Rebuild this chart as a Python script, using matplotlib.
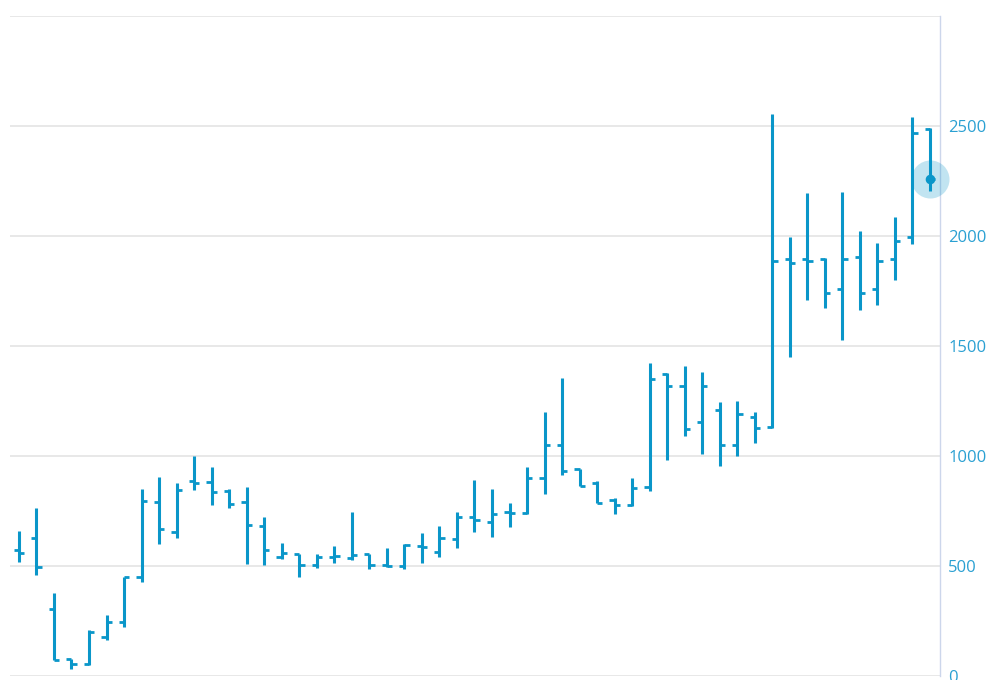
import matplotlib
matplotlib.use('Agg')
import matplotlib.pyplot as plt
import numpy as np

# OHLC values (53 periods)
opens = [570, 624, 304, 74, 52, 174, 242, 446, 789, 652,
         886, 878, 837, 789, 679, 537, 552, 501, 540, 533,
         552, 502, 499, 590, 563, 619, 722, 699, 745, 737,
         899, 1048, 937, 874, 798, 775, 858, 1370, 1316, 1151,
         1207, 1048, 1176, 1131, 1892, 1892, 1892, 1757, 1903, 1755,
         1892, 1992, 2484]
highs = [657, 760, 376, 76, 207, 274, 449, 846, 902, 874,
         998, 949, 846, 855, 719, 602, 552, 552, 589, 745,
         552, 581, 596, 649, 680, 745, 889, 846, 785, 949,
         1199, 1351, 937, 885, 805, 896, 1419, 1374, 1407, 1378,
         1242, 1249, 1199, 2552, 1994, 2192, 1896, 2199, 2020, 1964,
         2085, 2540, 2487]
lows = [514, 457, 70, 31, 46, 161, 222, 426, 599, 625,
        843, 774, 761, 508, 502, 530, 446, 487, 510, 525,
        483, 492, 483, 510, 537, 578, 651, 631, 674, 734,
        824, 911, 861, 785, 734, 770, 839, 980, 1089, 1007,
        952, 998, 1055, 1124, 1449, 1707, 1669, 1525, 1661, 1684,
        1798, 1961, 2203]
closes = [557, 495, 70, 52, 198, 242, 446, 795, 664, 843,
          876, 834, 781, 685, 570, 555, 502, 540, 543, 548,
          502, 499, 593, 583, 624, 722, 707, 734, 740, 899,
          1048, 931, 861, 785, 775, 851, 1346, 1316, 1120, 1316,
          1048, 1187, 1124, 1884, 1874, 1884, 1740, 1893, 1737, 1885,
          1976, 2467, 2257]

y_ticks = [0, 500, 1000, 1500, 2000, 2500]

bar_color = '#0a96c9'
label_color = '#2aa0d2'

fig = plt.figure(figsize=(9.87, 6.8), dpi=100)
ax = fig.add_axes([10 / 987, 4.5 / 680, 930 / 987, 660 / 680])

x = np.arange(len(opens))
tick = 0.3

ax.vlines(x, lows, highs, color=bar_color, linewidth=2.2, zorder=3)
ax.hlines(opens, x - tick, x, color=bar_color, linewidth=2.0, zorder=3)
ax.hlines(closes, x, x + tick, color=bar_color, linewidth=2.0, zorder=3)

# hover halo on the last point
ax.scatter([x[-1]], [closes[-1]], s=750, color=bar_color, alpha=0.25,
           linewidths=0, zorder=4, clip_on=False)
ax.scatter([x[-1]], [closes[-1]], s=35, color=bar_color, zorder=5, clip_on=False)

ax.set_xlim(-0.51, 52.57)
ax.set_ylim(0, 3000)

ax.set_yticks([0, 500, 1000, 1500, 2000, 2500, 3000])
ax.set_yticklabels([str(v) for v in y_ticks] + [''])
ax.yaxis.tick_right()
ax.tick_params(axis='y', length=0, pad=6, labelsize=12, labelcolor=label_color)
for lbl in ax.get_yticklabels():
    lbl.set_fontfamily('Open Sans')
ax.set_xticks([])

ax.grid(axis='y', color='#e6e6e6', linewidth=1.3, zorder=0)
ax.set_axisbelow(True)

for side in ['top', 'left', 'bottom']:
    ax.spines[side].set_visible(False)
ax.spines['right'].set_color('#ccd6eb')
ax.spines['right'].set_linewidth(1.0)

fig.savefig('out.png', dpi=100)
